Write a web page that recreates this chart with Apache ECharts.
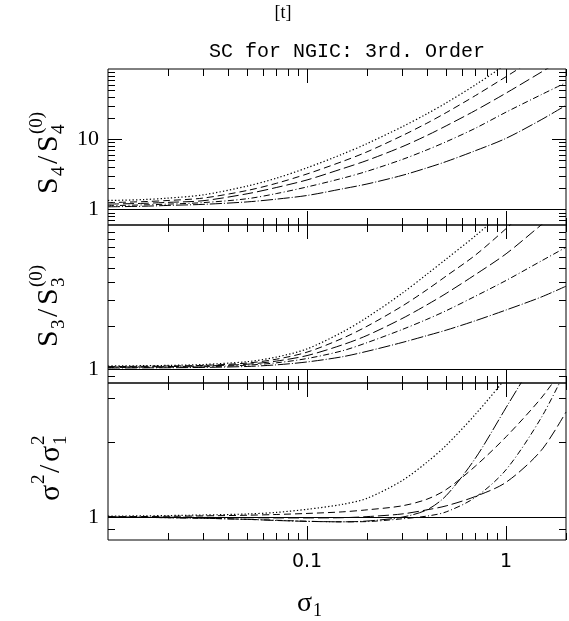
<!DOCTYPE html>
<html><head><meta charset="utf-8">
<script src="https://cdn.jsdelivr.net/npm/echarts@6/dist/echarts.min.js"></script>
<style>html,body{margin:0;padding:0;background:#fff}#c{width:569px;height:621px}</style>
</head><body><div id="c"></div>
<script>
// ---- data ----
const sigma = [0.01, 0.015, 0.02, 0.03, 0.05, 0.07, 0.1, 0.15, 0.2, 0.3, 0.4, 0.5, 0.7, 1.0, 1.5, 2.0];

// Panel 1: S4/S4(0)
const s4_dotted   = [1.34, 1.38, 1.45, 1.61, 2.15, 2.78, 3.92, 6.1, 8.65, 15, 23, 32.9, 59.3, 117, 263, 468];
const s4_dashed   = [1.25, 1.29, 1.34, 1.45, 1.86, 2.35, 3.2, 4.8, 6.6, 11.2, 16.9, 23.9, 41.7, 77.8, 161, 271];
const s4_longdash = [1.19, 1.22, 1.26, 1.33, 1.67, 2.05, 2.63, 3.79, 4.98, 7.8, 11.3, 15.5, 25.6, 45.4, 90, 148];
const s4_dashdot  = [1.13, 1.16, 1.19, 1.25, 1.42, 1.68, 2.09, 2.77, 3.49, 5.13, 7.04, 9.2, 14.3, 24.3, 43, 64];
const s4_longdot  = [1.09, 1.11, 1.14, 1.18, 1.28, 1.40, 1.58, 1.96, 2.3, 3.05, 3.9, 4.8, 6.85, 10.3, 18.9, 30.4];

// Panel 2: S3/S3(0)
const s3_dotted   = [1.05, 1.055, 1.06, 1.075, 1.125, 1.21, 1.38, 1.8, 2.28, 3.35, 4.55, 5.8, 8.4, 12.8, 21.5, 32];
const s3_dashed   = [1.04, 1.045, 1.05, 1.06, 1.10, 1.17, 1.31, 1.63, 1.98, 2.73, 3.55, 4.42, 6.17, 9.44, 15.8, 23.4];
const s3_longdash = [1.033, 1.035, 1.04, 1.05, 1.08, 1.135, 1.24, 1.47, 1.71, 2.24, 2.79, 3.35, 4.52, 6.31, 10, 13.8];
const s3_dashdot  = [1.025, 1.028, 1.03, 1.037, 1.064, 1.104, 1.183, 1.337, 1.524, 1.879, 2.213, 2.541, 3.2, 4.12, 5.62, 7.0];
const s3_longdot  = [1.016, 1.019, 1.021, 1.026, 1.042, 1.069, 1.12, 1.216, 1.327, 1.528, 1.706, 1.862, 2.163, 2.57, 3.16, 3.76];

// Panel 3: sigma^2/sigma1^2
const v_dotted   = [1.01, 1.012, 1.015, 1.02, 1.03, 1.045, 1.075, 1.125, 1.19, 1.40, 1.66, 1.94, 2.58, 3.62, 5.5, 7.6];
const v_dashed   = [1.005, 1.006, 1.008, 1.012, 1.018, 1.025, 1.035, 1.05, 1.07, 1.11, 1.18, 1.29, 1.6, 2.1, 3.0, 4.1];
const v_longdash = [1.0, 1.0, 1.0, 0.998, 0.995, 0.993, 0.993, 0.995, 1.005, 1.03, 1.07, 1.11, 1.21, 1.38, 1.85, 2.64];
const v_dashdot  = [1.0, 0.998, 0.995, 0.99, 0.98, 0.972, 0.963, 0.958, 0.96, 0.985, 1.01, 1.05, 1.2, 1.55, 2.5, 3.9];
const v_longdot  = [1.0, 0.998, 0.995, 0.99, 0.98, 0.97, 0.962, 0.958, 0.965, 1.0, 1.07, 1.22, 1.72, 2.75, 4.7, 7.0];

// axes ranges and ticks
const xMin = 0.01, xMax = 2;
const xLabels = ['0.1', '1'];
const xMajorTicks = [0.1, 1];
const xMinorTicks = [0.02,0.03,0.04,0.05,0.06,0.07,0.08,0.09,0.2,0.3,0.4,0.5,0.6,0.7,0.8,0.9,2];

const yRange = [[0.6, 100], [0.8, 10], [0.81, 3.45]];
const yLabels = [['1', '10'], ['1'], ['1']];
const yMajorTicks = [[1, 10], [1], [1]];
const yMinorTicks = [
  [0.7,0.8,0.9,2,3,4,5,6,7,8,9,20,30,40,50,60,70,80,90],
  [0.9,2,3,4,5,6,7,8,9],
  [0.9,2,3]
];

const panels = [
  [s4_dotted, s4_dashed, s4_longdash, s4_dashdot, s4_longdot],
  [s3_dotted, s3_dashed, s3_longdash, s3_dashdot, s3_longdot],
  [v_dotted, v_dashed, v_longdash, v_dashdot, v_longdot]
];

// ---- styles / layout ----
const dashes = [[1.3, 2.2], [7, 4], [11, 4], [6, 2.5, 1, 2.5], [12, 2, 1, 2]];
const widths = [1.2, 1, 1, 1, 1];
const gridTops = [69, 225, 383];
const gridHeights = [156, 158, 157];
const gridLeft = 108, gridWidth = 458;

function labelFormatter(list) {
  return function (v) {
    for (const l of list) {
      if (Math.abs(Math.log10(v) - Math.log10(parseFloat(l))) < 1e-6) return l;
    }
    return '';
  };
}

const grids = [], xAxes = [], yAxes = [], series = [];
for (let i = 0; i < 3; i++) {
  grids.push({left: gridLeft, width: gridWidth, top: gridTops[i], height: gridHeights[i],
    show: true, borderColor: '#000', borderWidth: 1, backgroundColor: 'transparent'});
  xAxes.push({type: 'log', logBase: 10, gridIndex: i, min: xMin, max: xMax,
    axisLine: {show: false}, axisTick: {show: false}, splitLine: {show: false},
    axisLabel: {show: i === 2, showMinLabel: false, showMaxLabel: false,
      formatter: labelFormatter(xLabels), fontFamily: 'DejaVu Sans', fontSize: 19,
      color: '#000', margin: 13}});
  yAxes.push({type: 'log', logBase: 10, gridIndex: i, min: yRange[i][0], max: yRange[i][1],
    axisLine: {show: false}, axisTick: {show: false}, splitLine: {show: false},
    axisLabel: {show: true, showMinLabel: false, showMaxLabel: false,
      formatter: labelFormatter(yLabels[i]), fontFamily: 'Liberation Serif', fontSize: 22,
      color: '#000', margin: 9}});
  panels[i].forEach((vals, k) => {
    const s = {
      type: 'line', xAxisIndex: i, yAxisIndex: i, showSymbol: false, symbol: 'none',
      smooth: 0.3, clip: true,
      data: sigma.map((x, j) => [x, vals[j]]),
      lineStyle: {color: '#000', width: widths[k], type: dashes[k]}
    };
    if (k === 0) {
      s.markLine = {silent: true, symbol: ['none', 'none'], label: {show: false},
        lineStyle: {color: '#000', type: 'solid', width: 1}, data: [{yAxis: 1}]};
    }
    series.push(s);
  });
  // tick marks, placed through the axes' own scales
  const yMin = yRange[i][0], yMax = yRange[i][1];
  const yMaj = yMajorTicks[i], yMin_ = yMinorTicks[i];
  series.push({
    type: 'custom', xAxisIndex: i, yAxisIndex: i, silent: true, clip: false, z: 5,
    data: [[xMin, yMin]],
    renderItem: function (params, api) {
      const bl = api.coord([xMin, yMin]);
      const tr = api.coord([xMax, yMax]);
      const ch = [];
      const add = (x1, y1, x2, y2) => ch.push({type: 'line',
        shape: {x1, y1, x2, y2}, style: {stroke: '#000', lineWidth: 1}});
      const sx = v => Math.round(api.coord([v, yMin])[0]) + 0.5;
      const sy = v => Math.round(api.coord([xMin, v])[1]) + 0.5;
      xMajorTicks.forEach(v => { const x = sx(v); add(x, bl[1], x, bl[1] - 14); add(x, tr[1], x, tr[1] + 14); });
      xMinorTicks.forEach(v => { const x = sx(v); add(x, bl[1], x, bl[1] - 7); add(x, tr[1], x, tr[1] + 7); });
      yMaj.forEach(v => { const y = sy(v); add(bl[0], y, bl[0] + 14, y); add(tr[0], y, tr[0] - 14, y); });
      yMin_.forEach(v => { const y = sy(v); add(bl[0], y, bl[0] + 7, y); add(tr[0], y, tr[0] - 7, y); });
      return {type: 'group', children: ch};
    }
  });
}

// ---- text ----
function txt(t, x, y, size, family, align) {
  return {type: 'text', x, y, style: {text: t, fontSize: size, fontFamily: family, fill: '#000',
    align: align || 'left', textAlign: align || 'left', verticalAlign: 'middle', textVerticalAlign: 'middle'}};
}
function rotLabel(x, y, parts) {
  return {type: 'group', x, y, rotation: Math.PI / 2,
    children: parts.map(p => txt(p[0], p[2], p[3], p[1], 'Liberation Serif'))};
}
const serif = 'Liberation Serif';
const graphics = [
  txt('[t]', 283, 13, 18, serif, 'center'),
  txt('SC for NGIC: 3rd. Order', 347, 52, 20, 'Liberation Mono', 'center'),
  rotLabel(49, 194, [['S', 30, 0, 0], ['4', 19, 18, 10], ['/', 30, 30, 0], ['S', 30, 42, 0], ['4', 19, 60, 10], ['(0)', 19, 60, -12]]),
  rotLabel(49, 347, [['S', 30, 0, 0], ['3', 19, 18, 10], ['/', 30, 30, 0], ['S', 30, 42, 0], ['3', 19, 60, 10], ['(0)', 19, 60, -12]]),
  rotLabel(51, 501, [['σ', 30, 0, 0], ['2', 19, 17, -12], ['/', 30, 28, 0], ['σ', 30, 39, 0], ['1', 19, 56, 10], ['2', 19, 56, -12]]),
  txt('σ', 297, 604, 28, serif, 'left'),
  txt('1', 313, 611, 18, serif, 'left')
];

const chart = echarts.init(document.getElementById('c'), null, {renderer: 'canvas'});
chart.setOption({
  animation: false,
  backgroundColor: '#fff',
  grid: grids, xAxis: xAxes, yAxis: yAxes, series: series,
  graphic: graphics
});
</script></body></html>
